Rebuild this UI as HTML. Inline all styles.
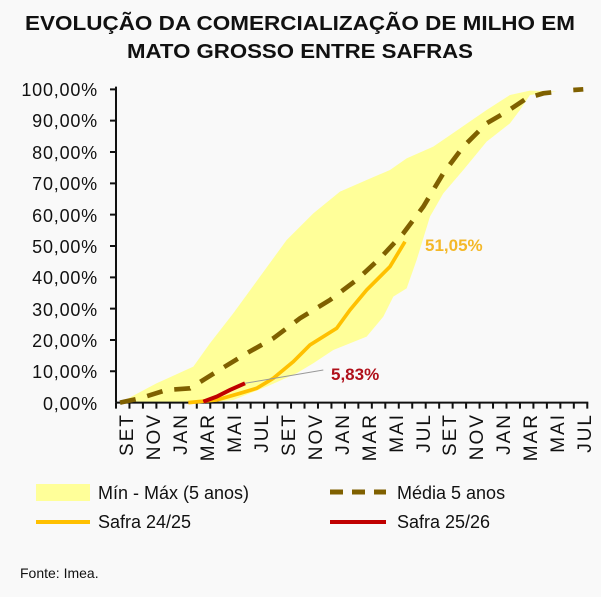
<!DOCTYPE html>
<html><head><meta charset="utf-8"><style>
html,body{margin:0;padding:0;background:#f9f9f9;}
svg{display:block;font-family:"Liberation Sans",sans-serif;}
</style></head><body>
<svg width="601" height="597" viewBox="0 0 601 597">
<rect width="601" height="597" fill="#f9f9f9"/>
<text x="300" y="30" text-anchor="middle" font-size="20" font-weight="bold" fill="#111" textLength="550" lengthAdjust="spacingAndGlyphs">EVOLUÇÃO DA COMERCIALIZAÇÃO DE MILHO EM</text>
<text x="300" y="58" text-anchor="middle" font-size="20" font-weight="bold" fill="#111" textLength="346" lengthAdjust="spacingAndGlyphs">MATO GROSSO ENTRE SAFRAS</text>
<g font-size="18" fill="#111" text-anchor="end" letter-spacing="0.8">
<text x="98" y="96">100,00%</text><text x="98" y="127">90,00%</text><text x="98" y="159">80,00%</text><text x="98" y="190">70,00%</text><text x="98" y="222">60,00%</text><text x="98" y="253">50,00%</text><text x="98" y="284">40,00%</text><text x="98" y="316">30,00%</text><text x="98" y="347">20,00%</text><text x="98" y="378">10,00%</text><text x="98" y="410">0,00%</text>
</g>
<g transform="translate(100,80) scale(0.3333)">
<path d="M60,968 L170,910 L280,860 L330,790 L400,700 L480,590 L560,480 L640,400 L720,335 L800,300 L870,270 L920,235 L1000,200 L1080,145 L1160,90 L1230,45 L1290,32 L1370,35 L1290,45 L1260,90 L1230,130 L1160,185 L1090,270 L1030,340 L990,410 L950,540 L920,625 L880,650 L850,710 L800,770 L700,810 L640,850 L590,880 L500,920 L400,960 L320,968 Z" fill="#ffff99"/>
<g stroke="#111" stroke-width="6" fill="none">
<line x1="48" y1="20" x2="48" y2="968"/>
<line x1="48" y1="968" x2="1465" y2="968"/>
<path d="M30,28H48M30,122H48M30,216H48M30,310H48M30,404H48M30,498H48M30,592H48M30,686H48M30,780H48M30,874H48"/>
<path d="M48,968v18M88.4,968v18M128.8,968v18M169.2,968v18M209.6,968v18M250,968v18M290.4,968v18M330.8,968v18M371.2,968v18M411.6,968v18M452,968v18M492.4,968v18M532.8,968v18M573.2,968v18M613.6,968v18M654,968v18M694.4,968v18M734.8,968v18M775.2,968v18M815.6,968v18M856,968v18M896.4,968v18M936.8,968v18M977.2,968v18M1017.6,968v18M1058,968v18M1098.4,968v18M1138.8,968v18M1179.2,968v18M1219.6,968v18M1260,968v18M1300.4,968v18M1340.8,968v18M1381.2,968v18M1421.6,968v18M1462,968v18"/>
</g>
<path d="M60,968 L120,955 L200,930 L270,925 L350,875 L440,820 L520,775 L600,715 L690,660 L770,600 L840,535 L910,460 L970,380 L1030,280 L1090,200 L1160,130 L1220,95 L1280,55 L1330,40 L1375,35" stroke="#7f6000" stroke-width="14" fill="none" stroke-dasharray="48,36"/>
<path d="M1420,30 L1450,28" stroke="#7f6000" stroke-width="14" fill="none"/>
<path d="M265,968 L350,960 L420,940 L470,925 L520,895 L580,845 L630,795 L710,745 L750,690 L800,630 L870,560 L915,485" stroke="#ffc000" stroke-width="11" fill="none"/>
<path d="M310,965 L350,950 L390,930 L435,910" stroke="#c00000" stroke-width="12" fill="none"/>
<path d="M435,910 L670,870" stroke="#999" stroke-width="3" fill="none"/>
</g>
<text x="425" y="251" font-size="17" font-weight="bold" fill="#f4b828">51,05%</text>
<text x="331" y="380" font-size="17" font-weight="bold" fill="#b0101a">5,83%</text>
<g font-size="19" fill="#111" letter-spacing="2">
<text transform="translate(133,413) rotate(-90)" text-anchor="end">SET</text>
<text transform="translate(160,413) rotate(-90)" text-anchor="end">NOV</text>
<text transform="translate(187,413) rotate(-90)" text-anchor="end">JAN</text>
<text transform="translate(214,413) rotate(-90)" text-anchor="end">MAR</text>
<text transform="translate(241,413) rotate(-90)" text-anchor="end">MAI</text>
<text transform="translate(268,413) rotate(-90)" text-anchor="end">JUL</text>
<text transform="translate(295,413) rotate(-90)" text-anchor="end">SET</text>
<text transform="translate(322,413) rotate(-90)" text-anchor="end">NOV</text>
<text transform="translate(349,413) rotate(-90)" text-anchor="end">JAN</text>
<text transform="translate(376,413) rotate(-90)" text-anchor="end">MAR</text>
<text transform="translate(403,413) rotate(-90)" text-anchor="end">MAI</text>
<text transform="translate(430,413) rotate(-90)" text-anchor="end">JUL</text>
<text transform="translate(456,413) rotate(-90)" text-anchor="end">SET</text>
<text transform="translate(483,413) rotate(-90)" text-anchor="end">NOV</text>
<text transform="translate(510,413) rotate(-90)" text-anchor="end">JAN</text>
<text transform="translate(537,413) rotate(-90)" text-anchor="end">MAR</text>
<text transform="translate(564,413) rotate(-90)" text-anchor="end">MAI</text>
<text transform="translate(591,413) rotate(-90)" text-anchor="end">JUL</text>
</g>
<g transform="translate(0,22)">
<rect x="36" y="462" width="54" height="17" fill="#ffff99"/>
<text x="98" y="477" font-size="18" fill="#111">Mín - Máx (5 anos)</text>
<path d="M330,470 H386" stroke="#7f6000" stroke-width="5" stroke-dasharray="13,9"/>
<text x="397" y="477" font-size="18" fill="#111">Média 5 anos</text>
<path d="M36,500 H90" stroke="#ffc000" stroke-width="4"/>
<text x="98" y="506" font-size="18" fill="#111">Safra 24/25</text>
<path d="M330,500 H386" stroke="#c00000" stroke-width="4"/>
<text x="397" y="506" font-size="18" fill="#111">Safra 25/26</text>
</g>
<text x="20" y="578" font-size="14" fill="#111">Fonte: Imea.</text>
</svg>
</body></html>
